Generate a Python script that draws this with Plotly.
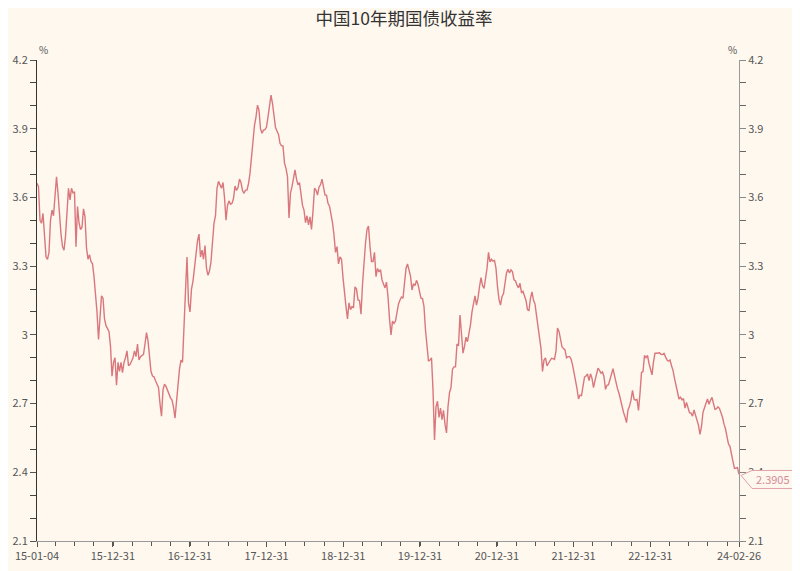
import pandas as pd
import plotly.graph_objects as go

title_text = "中国10年期国债收益率"
start_date = "2015-01-04"
end_date = "2024-02-26"

# weekly-ish readings of the 10Y yield (%)
yields = [
    3.662, 3.647, 3.50, 3.487, 3.53, 3.42, 3.341, 3.330, 3.36, 3.50,
    3.545, 3.52, 3.618, 3.69, 3.618, 3.51, 3.44, 3.385, 3.37, 3.43,
    3.53, 3.64, 3.589, 3.64, 3.62, 3.625, 3.385, 3.56, 3.49, 3.46,
    3.47, 3.55, 3.516, 3.38, 3.33, 3.35, 3.32, 3.31, 3.254, 3.19,
    3.10, 2.98, 3.06, 3.17, 3.16, 3.07, 3.04, 3.03, 3.015, 2.95,
    2.82, 2.88, 2.90, 2.78, 2.88, 2.84, 2.88, 2.835, 2.88, 2.90,
    2.93, 2.865, 2.87, 2.885, 2.90, 2.93, 2.905, 2.96, 2.89, 2.905,
    2.91, 2.915, 2.96, 3.01, 2.975, 2.90, 2.84, 2.82, 2.817, 2.80,
    2.78, 2.77, 2.70, 2.645, 2.76, 2.785, 2.775, 2.755, 2.74, 2.725,
    2.715, 2.685, 2.636, 2.73, 2.78, 2.85, 2.89, 2.88, 3.007, 3.19,
    3.34, 3.14, 3.10, 3.20, 3.235, 3.30, 3.335, 3.41, 3.44, 3.34,
    3.37, 3.33, 3.39, 3.29, 3.26, 3.28, 3.32, 3.43, 3.487, 3.52,
    3.64, 3.67, 3.65, 3.64, 3.665, 3.60, 3.501, 3.565, 3.585, 3.57,
    3.574, 3.595, 3.65, 3.63, 3.643, 3.68, 3.665, 3.63, 3.618, 3.632,
    3.632, 3.66, 3.705, 3.78, 3.855, 3.915, 3.952, 4.003, 3.98, 3.90,
    3.88, 3.894, 3.896, 3.907, 3.952, 4.015, 4.047, 4.01, 3.95, 3.905,
    3.89, 3.875, 3.836, 3.825, 3.825, 3.75, 3.727, 3.69, 3.51, 3.62,
    3.647, 3.685, 3.72, 3.68, 3.655, 3.665, 3.61, 3.565, 3.545, 3.49,
    3.52, 3.48, 3.515, 3.46, 3.54, 3.64, 3.632, 3.61, 3.645, 3.655,
    3.68, 3.65, 3.61, 3.61, 3.574, 3.562, 3.528, 3.49, 3.436, 3.36,
    3.385, 3.31, 3.34, 3.33, 3.25, 3.175, 3.123, 3.07, 3.14, 3.11,
    3.123, 3.12, 3.21, 3.20, 3.152, 3.15, 3.09, 3.22, 3.33, 3.40,
    3.46, 3.475, 3.385, 3.32, 3.32, 3.36, 3.254, 3.29, 3.275, 3.285,
    3.24, 3.22, 3.205, 3.23, 3.167, 3.07, 3.00, 3.06, 3.05, 3.06,
    3.10, 3.135, 3.152, 3.165, 3.16, 3.22, 3.29, 3.31, 3.28, 3.257,
    3.196, 3.223, 3.215, 3.238, 3.22, 3.19, 3.16, 3.158, 3.123, 3.02,
    2.94, 2.885, 2.89, 2.90, 2.76, 2.541, 2.686, 2.71, 2.64, 2.68,
    2.63, 2.67, 2.61, 2.572, 2.686, 2.748, 2.77, 2.85, 2.86, 2.86,
    2.96, 2.952, 3.087, 3.00, 2.92, 2.95, 2.99, 2.97, 3.00, 3.045,
    3.10, 3.13, 3.17, 3.13, 3.16, 3.21, 3.25, 3.215, 3.203, 3.245,
    3.29, 3.36, 3.319, 3.33, 3.322, 3.325, 3.29, 3.21, 3.155, 3.13,
    3.167, 3.18, 3.23, 3.27, 3.286, 3.27, 3.284, 3.275, 3.24, 3.235,
    3.217, 3.205, 3.225, 3.183, 3.19, 3.17, 3.15, 3.11, 3.107, 3.16,
    3.188, 3.151, 3.135, 3.085, 3.03, 2.98, 2.94, 2.84, 2.89, 2.90,
    2.865, 2.876, 2.885, 2.898, 2.896, 2.893, 2.93, 3.03, 3.015, 2.98,
    2.948, 2.94, 2.934, 2.90, 2.905, 2.905, 2.895, 2.87, 2.835, 2.808,
    2.765, 2.72, 2.737, 2.735, 2.77, 2.815, 2.82, 2.83, 2.80, 2.83,
    2.81, 2.77, 2.80, 2.83, 2.855, 2.845, 2.833, 2.838, 2.817, 2.762,
    2.78, 2.782, 2.806, 2.835, 2.852, 2.822, 2.788, 2.765, 2.745, 2.715,
    2.68, 2.662, 2.642, 2.617, 2.672, 2.688, 2.715, 2.758, 2.72, 2.715,
    2.718, 2.67, 2.745, 2.836, 2.84, 2.91, 2.90, 2.91, 2.875, 2.85,
    2.825, 2.882, 2.92, 2.92, 2.92, 2.922, 2.915, 2.914, 2.919, 2.90,
    2.89, 2.885, 2.89, 2.865, 2.845, 2.81, 2.78, 2.745, 2.72, 2.728,
    2.716, 2.722, 2.68, 2.705, 2.68, 2.66, 2.658, 2.645, 2.672, 2.653,
    2.628, 2.605, 2.566, 2.60, 2.662, 2.678, 2.701, 2.72, 2.697, 2.714,
    2.727, 2.70, 2.675, 2.678, 2.686, 2.678, 2.661, 2.64, 2.61, 2.59,
    2.556, 2.523, 2.512, 2.485, 2.447, 2.417, 2.417, 2.42, 2.3905,
]

dates = pd.date_range(start_date, end_date, periods=len(yields))

x_tick_dates = ["2015-01-04", "2015-12-31", "2016-12-31", "2017-12-31", "2018-12-31",
                "2019-12-31", "2020-12-31", "2021-12-31", "2022-12-31", "2024-02-26"]
x_tick_labels = ["15-01-04", "15-12-31", "16-12-31", "17-12-31", "18-12-31",
                 "19-12-31", "20-12-31", "21-12-31", "22-12-31", "24-02-26"]
y_tick_vals = [2.1, 2.4, 2.7, 3.0, 3.3, 3.6, 3.9, 4.2]
y_tick_labels = ["2.1", "2.4", "2.7", "3", "3.3", "3.6", "3.9", "4.2"]
last_label = "2.3905"

BG = "#FEF8EF"
LINE = "#D9777C"
PINK = "#E3A0AA"
FONT = "Microsoft YaHei, Noto Sans CJK SC, Noto Sans, sans-serif"

# page body has an 8px margin; size the figure so the plot lands where the reference has it
W, H = 792, 563

fig = go.Figure()
fig.add_trace(go.Scatter(x=dates, y=yields, mode="lines",
                         line=dict(color=LINE, width=1.4), yaxis="y",
                         hoverinfo="x+y", showlegend=False))
fig.add_trace(go.Scatter(x=[dates[-1]], y=[yields[-1]], mode="lines",
                         line=dict(width=0), yaxis="y2", showlegend=False,
                         hoverinfo="skip"))

yrange = [min(y_tick_vals), max(y_tick_vals)]
common_y = dict(range=yrange, tickvals=y_tick_vals, ticktext=y_tick_labels,
                ticks="outside", ticklen=6, showgrid=False, zeroline=False,
                showline=True, automargin=False,
                tickfont=dict(size=11, color="#555", family=FONT),
                minor=dict(dtick=0.1, tick0=2.1, ticks="outside", ticklen=6, showgrid=False))

fig.update_layout(
    template="none",
    width=W, height=H,
    paper_bgcolor=BG, plot_bgcolor=BG,
    margin=dict(l=29, r=61, t=52, b=30),
    font=dict(family=FONT, color="#555"),
    title=dict(text=title_text, x=0.5, xref="container", xanchor="center",
               y=1 - 11 / H, yref="container", yanchor="middle",
               font=dict(size=17.5, color="#333", family=FONT)),
    showlegend=False,
    xaxis=dict(type="date", range=[start_date, end_date],
               tickvals=x_tick_dates, ticktext=x_tick_labels,
               ticks="outside", ticklen=5, tickcolor="#555",
               showline=True, linecolor="#999", linewidth=1,
               showgrid=False, zeroline=False, automargin=False,
               tickfont=dict(size=11, color="#555", family=FONT),
               minor=dict(dtick="M3", tick0="2015-01-01", ticks="outside",
                          ticklen=4, tickcolor="#555", showgrid=False)),
    yaxis=dict(side="left", linecolor="#333", tickcolor="#555", **common_y),
    yaxis2=dict(side="right", overlaying="y", anchor="x", linecolor="#999",
                tickcolor="#888", **common_y),
)
fig.update_layout(yaxis_minor_tickcolor="#444", yaxis2_minor_tickcolor="#666")

# unit labels
fig.add_annotation(text="%", xref="paper", yref="paper", x=0, y=1, yshift=20,
                   showarrow=False, font=dict(size=10, color="#555", family=FONT))
fig.add_annotation(text="%", xref="paper", yref="paper", x=1, y=1, yshift=20,
                   showarrow=False, font=dict(size=10, color="#555", family=FONT))

# callout for the last value (paper-anchored so it is not clipped to the plot area)
last_frac = (yields[-1] - yrange[0]) / (yrange[1] - yrange[0])
fig.add_shape(type="path", xref="paper", yref="paper", xsizemode="pixel", ysizemode="pixel",
              xanchor=1, yanchor=last_frac,
              path="M 2 -1 L 13 4 L 55 4 L 55 -14 L 13 -14 Z",
              line=dict(color=PINK, width=1), fillcolor=BG, layer="above")
fig.add_annotation(text=last_label, x=1, y=last_frac, xref="paper", yref="paper",
                   xanchor="center", yanchor="middle", xshift=34, yshift=-5,
                   showarrow=False, font=dict(size=11, color="#D58A95", family=FONT))

fig.write_html("out.html")
